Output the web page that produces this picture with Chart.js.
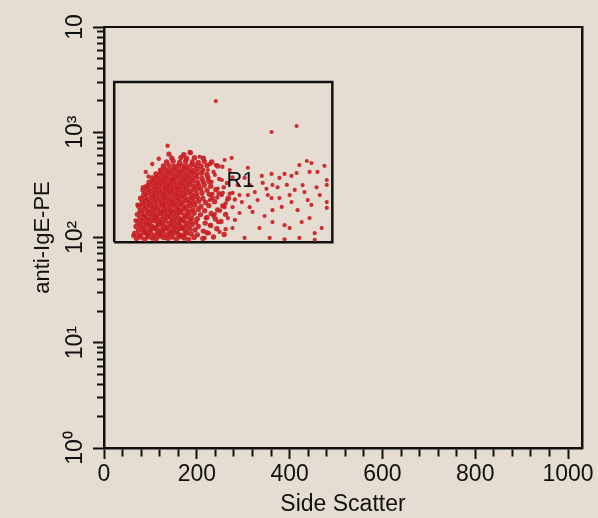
<!DOCTYPE html>
<html>
<head>
<meta charset="utf-8">
<script src="https://cdn.jsdelivr.net/npm/chart.js@4.4.1/dist/chart.umd.min.js"></script>
<style>
  html, body { margin: 0; padding: 0; background: #e5dcd2; }
  canvas { display: block; }
</style>
</head>
<body>
<canvas id="stage1" width="598" height="518"></canvas>
<script>
// tick labels
var xTickValues = [0, 200, 400, 600, 800, 1000];
var xTickLabels = ['0', '200', '400', '600', '800', '1000'];
var yTickValues = [1, 10, 100, 1000, 10000];
var yTickLabels = ['10⁰', '10¹', '10²', '10³', '10'];

// gate R1  [side scatter], [anti-IgE-PE]
var gateX = [22, 492];
var gateY = [90, 3000];
var gateName = 'R1';
var gateLabelPos = [294, 344];

// events inside the gate: [side scatter, anti-IgE-PE]
var coreEvents = [
  [70,98],[79,101],[88,96],[95,102],[104,99],[112,97],[121,103],[129,100],[138,98],[147,101],[156,97],[164,102],[173,99],[182,96],[194,100],[213,98],[236,101],
  [66,109],[76,106],[85,111],[93,107],[101,110],[110,105],[118,108],[127,112],[135,106],[144,109],[152,111],[161,107],[170,105],[178,110],[188,108],[201,106],[222,111],[259,107],
  [74,117],[82,120],[90,115],[99,119],[107,122],[115,116],[124,118],[132,121],[141,115],[149,119],[158,117],[166,122],[175,116],[185,120],[196,118],[214,115],[243,121],
  [69,127],[79,130],[87,126],[95,131],[103,128],[112,125],[120,132],[129,129],[137,126],[146,130],[154,127],[163,131],[171,125],[180,129],[190,133],[203,127],[230,130],
  [73,139],[83,142],[91,137],[99,141],[108,144],[116,138],[125,140],[133,143],[142,137],[150,141],[159,139],[167,144],[176,138],[186,142],[198,140],[218,137],[252,142],
  [77,152],[86,155],[94,150],[102,156],[111,153],[119,149],[128,154],[136,157],[145,151],[153,155],[162,152],[170,150],[179,156],[189,153],[201,151],[222,155],[240,150],
  [72,166],[81,169],[89,164],[97,170],[106,167],[114,163],[123,168],[131,171],[140,165],[148,169],[157,166],[165,172],[174,164],[183,168],[194,170],[208,165],[231,169],[262,166],
  [78,181],[87,185],[95,179],[104,184],[112,182],[121,178],[129,186],[138,183],[146,180],[155,184],[163,181],[172,186],[181,179],[191,183],[203,185],[217,180],[245,183],
  [75,198],[84,202],[92,196],[100,201],[109,199],[117,195],[126,203],[134,200],[143,197],[151,202],[160,198],[168,204],[177,196],[186,200],[196,203],[209,197],[226,201],[256,199],
  [82,216],[90,220],[98,214],[107,219],[115,217],[124,213],[132,221],[141,218],[149,215],[158,220],[166,216],[175,222],[184,214],[193,218],[204,221],[219,215],[238,219],
  [79,236],[88,240],[96,233],[105,239],[113,237],[122,232],[130,241],[139,238],[147,234],[156,240],[164,236],[173,242],[182,233],[191,238],[201,241],[213,235],[233,239],[268,236],
  [86,258],[94,262],[103,255],[111,261],[120,259],[128,254],[137,263],[145,260],[154,256],[162,262],[171,258],[180,264],[189,255],[199,260],[211,263],[227,257],[248,261],
  [84,282],[93,287],[101,279],[110,285],[118,283],[127,278],[135,288],[144,284],[152,280],[161,286],[170,282],[178,289],[187,279],[197,284],[208,287],[222,281],[241,285],
  [92,308],[100,313],[108,305],[117,311],[125,309],[134,304],[142,314],[151,310],[159,306],[168,312],[176,308],[185,315],[194,305],[204,310],[216,313],[230,307],
  [97,336],[106,341],[114,333],[123,339],[131,337],[140,332],[148,342],[157,338],[165,334],[174,340],[183,336],[192,343],[202,333],[214,338],[226,341],
  [104,367],[113,372],[121,363],[130,370],[138,368],[147,362],[155,373],[164,369],[172,364],[181,371],[190,367],[200,374],[211,363],[224,369],
  [112,401],[121,406],[129,397],[138,404],[146,402],[155,396],[163,407],[172,403],[180,398],[189,405],[199,401],[210,408],[222,397],
  [122,437],[131,443],[139,433],[148,441],[156,438],[165,432],[173,444],[182,439],[191,434],[201,442],[213,437],
  [128,478],[140,484],[151,474],[160,482],[169,479],[178,473],[188,485],[198,480],[209,475],[222,483],[245,478],
  [135,522],[149,530],[163,518],[176,527],[190,523],[203,516],[216,529],[232,521],
  [146,568],[166,575],[178,564],[195,572],[214,566],
  [140,620],[172,612],[186,640]
];

var haloEvents = [
  [63,104],[68,145],[72,205],[84,300],[96,380],[90,420],[104,500],[118,560],[137,745],
  [236,420],[248,360],[258,300],[244,240],[262,210],[250,180],[236,160],[271,260],
  [228,500],[255,470],[265,330],[282,230],[246,140],[262,120],[226,110]
];

var tailEvents = [
  [275,570],[277,373],[361,402],[389,402],[415,410],[404,385],[437,533],[447,510],[443,420],[480,352],
  [480,316],[342,330],[363,316],[374,300],[394,316],[411,283],[432,270],[458,300],[361,237],[378,237],
  [383,195],[363,182],[404,217],[439,227],[480,217],[447,204],[480,191],[277,194],[297,217],[314,194],
  [320,175],[292,171],[265,227],[282,147],[363,140],[426,140],[400,123],[335,123],[454,110],[357,99],
  [421,99],[277,123],[254,352],[256,265],[277,265],[310,253],[325,270],[350,290],
  [224,438],[239,393],[232,337],[245,292],[254,253],[228,227],[260,194],[239,167],[267,153],[228,131],
  [249,113],[217,99],[288,315],[303,368],[271,438],[292,253],[234,260],[219,153],[241,488],[260,545],
  [206,585],[185,650],
  [421,488],[460,420],[400,253],[346,160],[389,131],[443,153],[469,123],[303,99],[331,227],[353,253],
  [417,182],[465,253],[428,315],[378,368],[340,385],[314,315],[454,95],[389,96],[475,480],[310,460]
];

var outlierEvents = [[241,1980],[361,1005],[415,1146]];

var FONT = "'Liberation Sans', Arial, Helvetica, sans-serif";
var INK = '#111111';
var DOT = 'rgba(200,28,32,0.9)';

function toPoints(list) {
  var out = [];
  for (var row of list) {
    out.push({x: row[0], y: row[1]});
  }
  return out;
}

function gatePoints() {
  return [
    {x: gateX[0], y: gateY[0]}, {x: gateX[0], y: gateY[1]},
    {x: gateX[1], y: gateY[1]}, {x: gateX[1], y: gateY[0]},
    {x: gateX[0], y: gateY[0]}
  ];
}

// significand of a log tick is a whole number 1..9
function wholeSig(v) {
  var m = v / Math.pow(10, Math.floor(Math.log10(v) + 1e-9));
  return Math.abs(m - Math.round(m)) < 1e-6;
}

var gateLabel = {
  id: 'gateLabel',
  afterDatasetsDraw: function(chart) {
    var ctx = chart.ctx;
    ctx.save();
    ctx.font = '22px ' + FONT;
    ctx.fillStyle = INK;
    ctx.textAlign = 'center';
    ctx.textBaseline = 'middle';
    ctx.fillText(gateName,
      chart.scales.x.getPixelForValue(gateLabelPos[0]),
      chart.scales.y.getPixelForValue(gateLabelPos[1]));
    ctx.restore();
  }
};

function dots(list, r) {
  return {
    data: toPoints(list), showLine: false, pointRadius: r, pointHoverRadius: r,
    borderWidth: 0, backgroundColor: DOT, pointBackgroundColor: DOT, pointBorderWidth: 0
  };
}

function drawGraph(canv) {
  var chart = new Chart(canv, {
    type: 'scatter',
    data: {
      datasets: [
        dots(coreEvents, 2.7),
        dots(haloEvents, 2.2),
        dots(tailEvents, 2.1),
        dots(outlierEvents, 2.1),
        {
          data: gatePoints(),
          showLine: true, pointRadius: 0, borderColor: INK, borderWidth: 2.5,
          fill: false, tension: 0
        }
      ]
    },
    options: {
      responsive: false,
      animation: false,
      layout: { padding: { left: 0, right: 16, top: 27, bottom: 0 } },
      plugins: { legend: { display: false }, tooltip: { enabled: false } },
      scales: {
        x: {
          type: 'linear', position: 'bottom', min: 0, max: 1030, bounds: 'data',
          afterFit: function(s) { s.height = 70; },
          afterBuildTicks: function(s) {
            s.ticks = s.ticks.filter(function(t) { return t.value % 40 === 0; });
          },
          border: { display: true, color: INK, width: 2.5 },
          grid: {
            drawOnChartArea: false, tickLength: 11, tickColor: INK, tickWidth: 2,
            tickBorderDash: function(c) {
              return c.tick && xTickValues.indexOf(c.tick.value) < 0 ? [7, 100] : [];
            }
          },
          ticks: {
            stepSize: 40, includeBounds: false, autoSkip: false, maxRotation: 0, minRotation: 0,
            padding: 2, color: INK, font: { family: FONT, size: 23 },
            callback: function(v) {
              var i = xTickValues.indexOf(v);
              return i < 0 ? '' : xTickLabels[i];
            }
          },
          title: {
            display: true, text: 'Side Scatter', color: INK,
            font: { family: FONT, size: 23 }, padding: { top: 0, bottom: 0 }
          }
        },
        y: {
          type: 'logarithmic', position: 'left', min: 1, max: 10000,
          afterFit: function(s) { s.width = 104; },
          afterBuildTicks: function(s) {
            s.ticks = s.ticks.filter(function(t) { return wholeSig(t.value); });
          },
          border: { display: true, color: INK, width: 2.5 },
          grid: {
            drawOnChartArea: false, tickLength: 11, tickColor: INK, tickWidth: 2,
            tickBorderDash: function(c) {
              return c.tick && yTickValues.indexOf(c.tick.value) < 0 ? [0, 4, 7, 100] : [];
            }
          },
          ticks: {
            autoSkip: false, minRotation: 90, maxRotation: 90, crossAlign: 'center',
            padding: 1, color: INK, font: { family: FONT, size: 23 },
            callback: function(v) {
              var i = yTickValues.indexOf(v);
              return i < 0 ? '' : yTickLabels[i];
            }
          },
          title: {
            display: true, text: 'anti-IgE-PE', color: INK,
            font: { family: FONT, size: 22 }, padding: { top: 30, bottom: 0 }
          }
        },
        // top and right edges of the frame
        x2: {
          type: 'linear', position: 'top', display: true,
          afterFit: function(s) { s.height = 0; },
          border: { display: true, color: INK, width: 2 },
          grid: { drawOnChartArea: false, drawTicks: false },
          ticks: { display: false }
        },
        y2: {
          type: 'linear', position: 'right', display: true,
          afterFit: function(s) { s.width = 0; },
          border: { display: true, color: INK, width: 2.5 },
          grid: { drawOnChartArea: false, drawTicks: false },
          ticks: { display: false }
        }
      }
    },
    plugins: [gateLabel]
  });
  return chart;
}

drawGraph(document.getElementById('stage1'));
</script>
</body>
</html>
